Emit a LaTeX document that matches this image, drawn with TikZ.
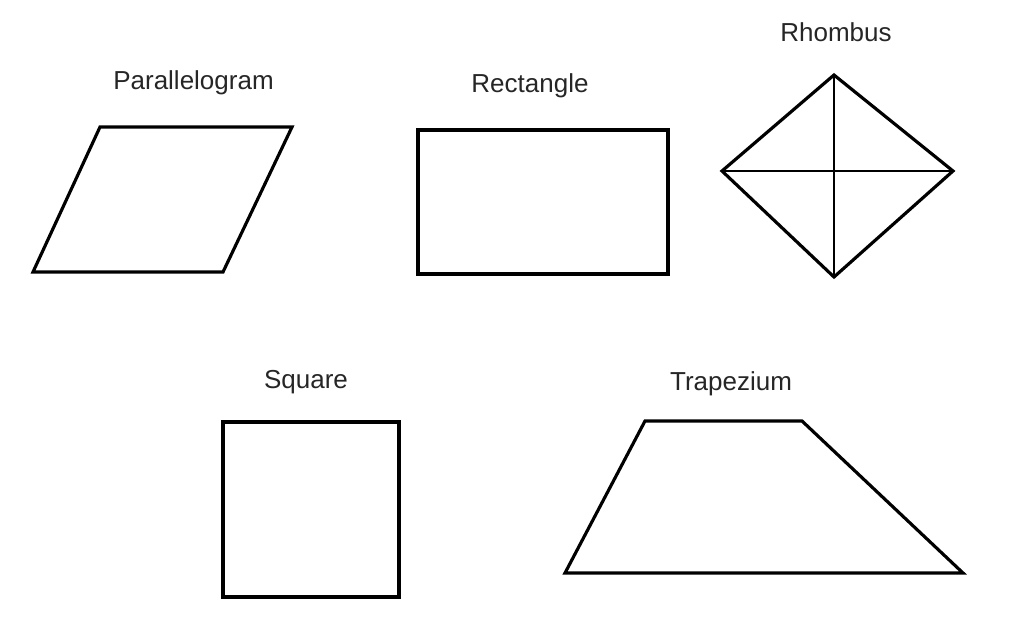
\documentclass[tikz,border=0pt]{standalone}
\usepackage{fontspec}
\setmainfont{Liberation Sans}
\usetikzlibrary{calc}
\usetikzlibrary{positioning}
\providecommand*{\pgfmathsetnewmacro}[2]{%
    \newcommand*{#1}{}% Error if already defined
    \pgfmathsetmacro{#1}{#2}%
}
\tikzset{
    outline/.style = {line width = 1.8pt, line join = miter},
    diag/.style = {line width = 1.3pt},
    caption/.style = {anchor = base, inner sep = 0pt, font = \fontsize{14.8}{16}\selectfont, black!85}
}

\begin{document}
\begin{tikzpicture}[x = 0.02cm, y = -0.02cm]
    \pgfmathsetnewmacro{\ww}{1024}
    \pgfmathsetnewmacro{\hh}{625}
    \useasboundingbox (0,0) rectangle (\ww,\hh);

    % parallelogram
    \node (Lpar) at (193.5,90) [caption] {Parallelogram};
    \draw[outline] (100,127) -- (292,127) -- (223,272) -- (33,272) -- cycle;

    % rectangle
    \node (Lrect) at (530,92) [caption] {Rectangle};
    \draw[outline] (418,130) rectangle (668,274);

    % rhombus with its diagonals
    \node (Lrho) at (836,42) [caption] {Rhombus};
    \coordinate (T) at (834,75);
    \coordinate (R) at (953,171);
    \coordinate (B) at (834,277);
    \coordinate (L) at (722,171);
    \draw[outline] (T) -- (R) -- (B) -- (L) -- cycle;
    \draw[diag] (T) -- (B);
    \draw[diag] (L) -- (R);

    % square
    \node (Lsq) at (306,388) [caption] {Square};
    \draw[outline] (223,422) rectangle (399,597);

    % trapezium
    \node (Ltrap) at (731,390) [caption] {Trapezium};
    \draw[outline] (645,421) -- (802,421) -- (963,573) -- (565,573) -- cycle;

\end{tikzpicture}
\end{document}
